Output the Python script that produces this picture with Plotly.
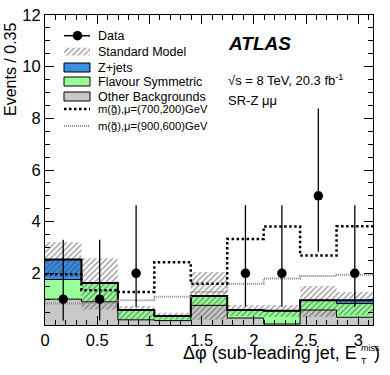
import math
import plotly.graph_objects as go

# ---------------- data ----------------
nbins = 9
bin_edges = [i * math.pi / 9 for i in range(10)]
bin_centers = [(bin_edges[i] + bin_edges[i + 1]) / 2 for i in range(nbins)]

other_bkg = [1.00, 0.90, 0.20, 0.17, 0.76, 0.27, 0.04, 0.58, 0.30]
flavour_sym = [0.76, 0.73, 0.38, 0.18, 0.36, 0.31, 0.51, 0.38, 0.53]
z_jets = [0.78, 0.00, 0.00, 0.00, 0.00, 0.00, 0.00, 0.00, 0.13]
sm_unc_up = [3.20, 2.58, 0.74, 0.47, 2.05, 0.77, 0.77, 1.51, 1.28]
sm_unc_down = [1.86, 0.60, 0.20, 0.20, 0.20, 0.35, 0.32, 0.32, 0.38]

sig_700_200 = [1.96, 1.35, 1.28, 2.43, 1.60, 3.33, 3.81, 2.69, 3.82]
sig_900_600 = [0.83, 0.86, 0.96, 1.09, 1.28, 1.60, 1.80, 1.90, 1.95]

data_counts = [1, 1, 2, 0, 0, 2, 2, 5, 2]
data_err_up = [2.30, 2.30, 2.64, 0, 0, 2.64, 2.64, 3.38, 2.64]
data_err_down = [0.83, 0.83, 1.29, 0, 0, 1.29, 1.29, 2.16, 1.29]

y_tick_vals = [0, 2, 4, 6, 8, 10, 12]
y_tick_text = ["", "2", "4", "6", "8", "10", "12"]
x_tick_vals = [0, 0.5, 1, 1.5, 2, 2.5, 3]
x_tick_text = ["0", "0.5", "1", "1.5", "2", "2.5", "3"]

legend_labels = ["Data", "Standard Model", "Z+jets", "Flavour Symmetric",
                 "Other Backgrounds", "m(g\u0303),\u03bc=(700,200)GeV",
                 "m(g\u0303),\u03bc=(900,600)GeV"]

# ---------------- colours ----------------
C_GREY = "#c8c8c8"
C_GREEN = "#99ff99"
C_BLUE = "#3a8ee6"
FONT = "Liberation Sans, Arial, Helvetica, sans-serif"
HATCH = dict(shape="/", fgcolor="#333333", size=4, solidity=0.35)


def step(vals):
    xs, ys = [], []
    for i, v in enumerate(vals):
        xs += [bin_edges[i], bin_edges[i + 1]]
        ys += [v, v]
    return xs, ys


def band(lo, hi):
    xl, yl = step(lo)
    xh, yh = step(hi)
    return xh + xl[::-1] + [xh[0]], yh + yl[::-1] + [yh[0]]


fig = go.Figure()

s1 = other_bkg
s2 = [a + b for a, b in zip(s1, flavour_sym)]
s3 = [a + b for a, b in zip(s2, z_jets)]
zero = [0] * nbins

for lo, hi, col in [(zero, s1, C_GREY), (s1, s2, C_GREEN), (s2, s3, C_BLUE)]:
    bx, by = band(lo, hi)
    fig.add_trace(go.Scatter(x=bx, y=by, mode="lines", fill="toself",
                             fillcolor=col, line=dict(width=0),
                             showlegend=False, hoverinfo="skip"))

# hatched SM uncertainty
bx, by = band(sm_unc_down, sm_unc_up)
fig.add_trace(go.Scatter(x=bx, y=by, mode="lines", fill="toself",
                         fillcolor="rgba(0,0,0,0)", fillpattern=HATCH,
                         line=dict(width=0), showlegend=False, hoverinfo="skip"))

# component outlines
for vals in (s1, s2):
    sx, sy = step(vals)
    fig.add_trace(go.Scatter(x=sx, y=sy, mode="lines",
                             line=dict(color="black", width=1),
                             showlegend=False, hoverinfo="skip"))
sx, sy = step(s3)
fig.add_trace(go.Scatter(x=sx, y=sy, mode="lines",
                         line=dict(color="black", width=2),
                         showlegend=False, hoverinfo="skip"))

# signals
sx, sy = step(sig_900_600)
fig.add_trace(go.Scatter(x=sx, y=sy, mode="lines",
                         line=dict(color="#8a8a8a", width=2, dash="1px,1px"),
                         showlegend=False, hoverinfo="skip"))
sx, sy = step(sig_700_200)
fig.add_trace(go.Scatter(x=sx, y=sy, mode="lines",
                         line=dict(color="black", width=2.5, dash="2.5px,2.5px"),
                         showlegend=False, hoverinfo="skip"))

# data
dx = [c for c, n in zip(bin_centers, data_counts) if n > 0]
dy = [n for n in data_counts if n > 0]
eu = [e for e, n in zip(data_err_up, data_counts) if n > 0]
ed = [e for e, n in zip(data_err_down, data_counts) if n > 0]
fig.add_trace(go.Scatter(x=dx, y=dy, mode="markers",
                         marker=dict(color="black", size=9.5),
                         error_y=dict(type="data", symmetric=False, array=eu,
                                      arrayminus=ed, color="black",
                                      thickness=1.3, width=0),
                         showlegend=False))

# ---------------- legend (drawn in data coordinates) ----------------
# pixel positions measured in the reference; plot area spans x 45..373, y 15..325
def px2x(px):
    return (px - 45) / 328.0 * math.pi


def py2y(py):
    return (325 - py) / 310.0 * 12


lx0, lx1 = px2x(64), px2x(90)
fig.add_trace(go.Scatter(x=[lx0, lx1], y=[py2y(35.7)] * 2, mode="lines",
                         line=dict(color="black", width=1.5),
                         showlegend=False, hoverinfo="skip"))
fig.add_trace(go.Scatter(x=[px2x(77.5)], y=[py2y(35.7)], mode="markers",
                         marker=dict(color="black", size=9.5),
                         showlegend=False, hoverinfo="skip"))


def box(ytop_px, ybot_px, col, hatch=False, border=True):
    yt, yb = py2y(ytop_px), py2y(ybot_px)
    kw = dict(fillcolor=col)
    if hatch:
        kw = dict(fillcolor="rgba(0,0,0,0)", fillpattern=HATCH)
    fig.add_trace(go.Scatter(x=[lx0, lx1, lx1, lx0, lx0], y=[yt, yt, yb, yb, yt],
                             mode="lines", fill="toself",
                             line=dict(color="black" if border else "rgba(0,0,0,0)", width=1),
                             showlegend=False, hoverinfo="skip", **kw))


box(47.7, 55.5, None, hatch=True, border=False)
box(63, 72, C_BLUE)
box(77, 86, C_GREEN)
box(92, 101, C_GREY)
fig.add_trace(go.Scatter(x=[lx0, lx1], y=[py2y(109)] * 2, mode="lines",
                         line=dict(color="black", width=2.5, dash="2.5px,2.5px"),
                         showlegend=False, hoverinfo="skip"))
fig.add_trace(go.Scatter(x=[lx0, lx1], y=[py2y(126)] * 2, mode="lines",
                         line=dict(color="#8a8a8a", width=2, dash="1px,1px"),
                         showlegend=False, hoverinfo="skip"))

annotations = []
legend_sizes = [12.5, 12.5, 12.5, 12.5, 12.5, 11.2, 11.2]
for lab, ypx, fs in zip(legend_labels, [35.7, 51.5, 67.5, 81.5, 96.5, 109, 126], legend_sizes):
    annotations.append(dict(x=px2x(96), y=py2y(ypx), xref="x", yref="y",
                            text=lab, showarrow=False, xanchor="left",
                            yanchor="middle", font=dict(size=fs, color="black", family=FONT)))

annotations += [
    dict(x=px2x(226), y=py2y(43), xref="x", yref="y", text="<b><i>ATLAS</i></b>",
         showarrow=False, xanchor="left", yanchor="middle",
         font=dict(size=19, color="black", family=FONT)),
    dict(x=px2x(226), y=py2y(80), xref="x", yref="y",
         text="\u221as = 8 TeV, 20.3 fb<sup>-1</sup>",
         showarrow=False, xanchor="left", yanchor="middle",
         font=dict(size=13, color="black", family=FONT)),
    dict(x=px2x(226), y=py2y(100), xref="x", yref="y", text="SR-Z \u03bc\u03bc",
         showarrow=False, xanchor="left", yanchor="middle",
         font=dict(size=13, color="black", family=FONT)),
    # y-axis title
    dict(x=(11 - 45) / 328.0, y=(325 - 70) / 310.0, xref="paper", yref="paper",
         text="Events / 0.35", textangle=-90, showarrow=False,
         xanchor="center", yanchor="middle",
         font=dict(size=16, color="black", family=FONT)),
    # x-axis title
    dict(x=(359 - 45) / 328.0, y=(325 - 352.5) / 310.0, xref="paper", yref="paper",
         text="\u0394\u03c6 (sub-leading jet, E", showarrow=False,
         xanchor="right", yanchor="middle",
         font=dict(size=18, color="black", family=FONT)),
    dict(x=(358.5 - 45) / 328.0, y=(325 - 347.5) / 310.0, xref="paper", yref="paper",
         text="miss", showarrow=False, xanchor="left", yanchor="middle",
         font=dict(size=9, color="black", family=FONT)),
    dict(x=(358.5 - 45) / 328.0, y=(325 - 360.5) / 310.0, xref="paper", yref="paper",
         text="T", showarrow=False, xanchor="left", yanchor="middle",
         font=dict(size=9, color="black", family=FONT)),
    dict(x=(372 - 45) / 328.0, y=(325 - 352.5) / 310.0, xref="paper", yref="paper",
         text=")", showarrow=False, xanchor="left", yanchor="middle",
         font=dict(size=18, color="black", family=FONT)),
]

fig.update_layout(
    width=390, height=375,
    margin=dict(l=45, r=17, t=15, b=50),
    paper_bgcolor="white", plot_bgcolor="white",
    showlegend=False,
    annotations=annotations,
    font=dict(family=FONT, size=15, color="black"),
    xaxis=dict(range=[0, math.pi], tickvals=x_tick_vals, ticktext=x_tick_text,
               ticks="inside", ticklen=9, tickcolor="black", tickwidth=1,
               showline=True, linecolor="black", linewidth=1, mirror="allticks",
               showgrid=False, zeroline=False, automargin=False,
               ticklabeloverflow="allow",
               tickfont=dict(size=16.5, family=FONT),
               minor=dict(dtick=0.1, tick0=0, ticks="inside", ticklen=5,
                          tickcolor="black", showgrid=False)),
    yaxis=dict(range=[0, 12], tickvals=y_tick_vals, ticktext=y_tick_text,
               ticks="inside", ticklen=9, tickcolor="black", tickwidth=1,
               showline=True, linecolor="black", linewidth=1, mirror="allticks",
               showgrid=False, zeroline=False, automargin=False,
               ticklabeloverflow="allow",
               tickfont=dict(size=16.5, family=FONT),
               minor=dict(dtick=0.5, tick0=0, ticks="inside", ticklen=5,
                          tickcolor="black", showgrid=False)),
)

# remove the default 8px page margin so the figure sits at the window's corner
fig.write_html("out.html",
               config={"displayModeBar": False},
               post_script="document.body.style.margin='0';"
                           "document.body.style.overflow='hidden';")
